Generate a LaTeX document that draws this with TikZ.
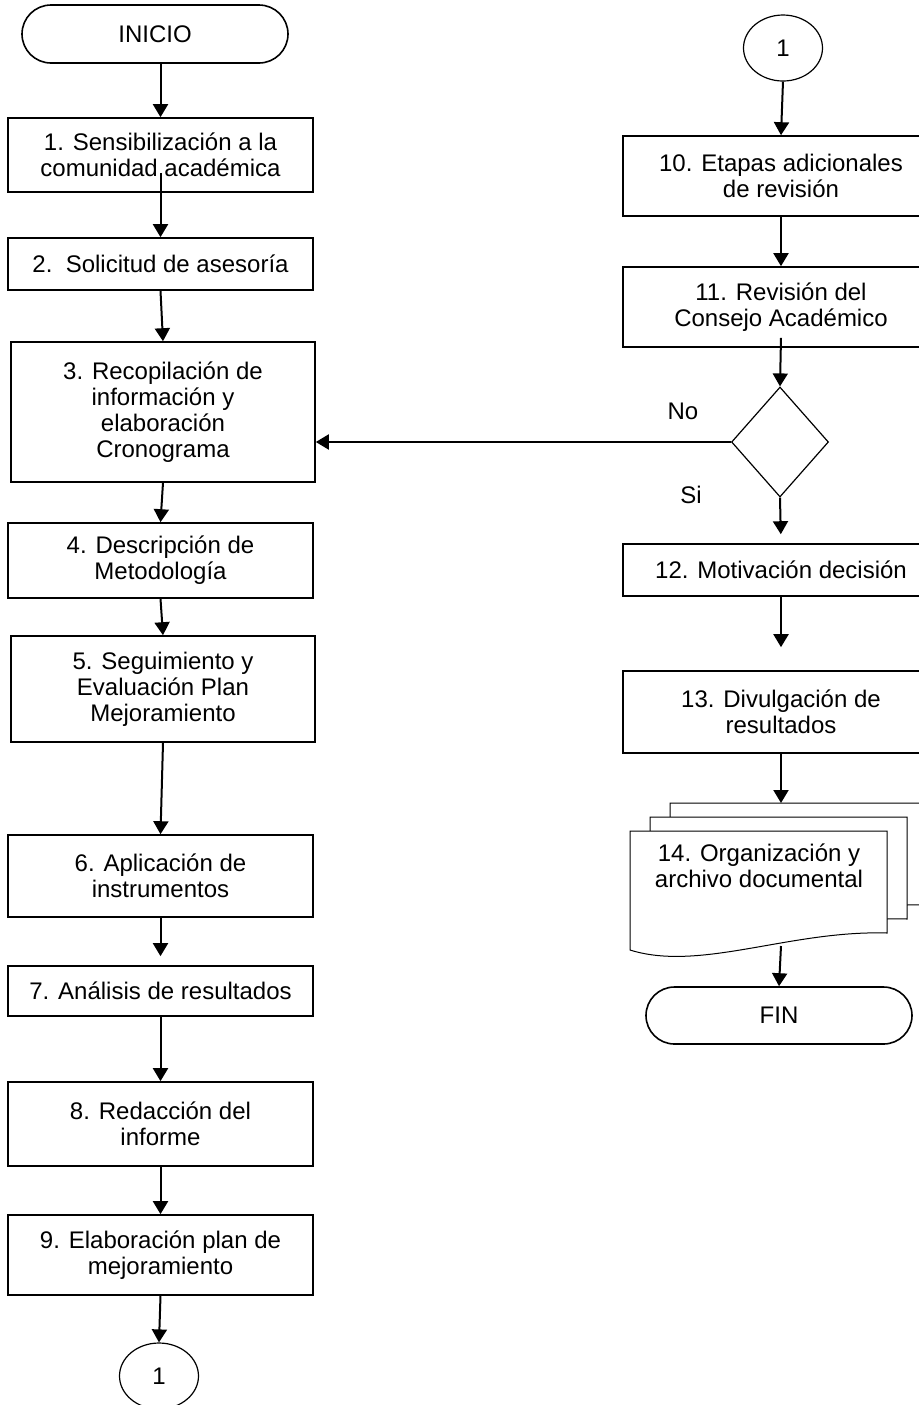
\documentclass[tikz,border=0pt]{standalone}
\usepackage{fontspec}
\setmainfont{Liberation Sans}
\usetikzlibrary{shapes.geometric, shapes.misc, arrows.meta}

\begin{document}
\begin{tikzpicture}[x=0.5pt, y=-0.5pt,
    font=\fontsize{12}{13}\selectfont,
    proceso/.style={draw, line width=0.8pt, align=center, inner sep=0pt},
    terminal/.style={draw, rounded rectangle, line width=0.8pt, inner sep=0pt,
        minimum width=133pt, minimum height=29pt},
    conector/.style={draw, ellipse, line width=0.6pt, inner sep=0pt,
        minimum width=39.5pt, minimum height=33pt},
    decision/.style={draw, diamond, line width=0.6pt, inner sep=0pt,
        minimum width=48.5pt, minimum height=55pt},
    hoja/.style={draw, fill=white, line width=0.5pt},
    flecha/.style={-{Triangle[width=7.5pt,length=6.5pt]}, line width=1pt}]
    \useasboundingbox (0,0) rectangle (919,1405);
    \clip (0,0) rectangle (919,1405);

    % Left column
    \node[terminal] (ini) at (155,34) {INICIO};
    \node[proceso, minimum width=152.5pt, minimum height=37pt] (b1) at (160.5,155)
        {1. Sensibilización a la\\comunidad académica};
    \node[proceso, minimum width=152.5pt, minimum height=26pt] (b2) at (160.5,264)
        {2.\ \ Solicitud de asesoría};
    \node[proceso, minimum width=152pt, minimum height=70pt] (b3) at (163,412)
        {3. Recopilación de\\información y\\elaboración\\Cronograma};
    \node[proceso, minimum width=152.5pt, minimum height=37.5pt] (b4) at (160.5,560.5)
        {4. Descripción de\\Metodología};
    \node[proceso, minimum width=152pt, minimum height=53pt] (b5) at (163,689)
        {5. Seguimiento y\\Evaluación Plan\\Mejoramiento};
    \node[proceso, minimum width=152.5pt, minimum height=41pt] (b6) at (160.5,876)
        {6. Aplicación de\\instrumentos};
    \node[proceso, minimum width=152.5pt, minimum height=25pt] (b7) at (160.5,991)
        {7. Análisis de resultados};
    \node[proceso, minimum width=152.5pt, minimum height=42pt] (b8) at (160.5,1124)
        {8. Redacción del\\informe};
    \node[proceso, minimum width=152.5pt, minimum height=40pt] (b9) at (160.5,1255)
        {9. Elaboración plan de\\mejoramiento};
    \node[conector] (c1) at (159,1376) {1};

    % Right column
    \node[conector] (c2) at (783,48) {1};
    \node[proceso, minimum width=158pt, minimum height=40pt] (b10) at (781,176)
        {10. Etapas adicionales\\de revisión};
    \node[proceso, minimum width=158pt, minimum height=40pt] (b11) at (781,307)
        {11. Revisión del\\Consejo Académico};
    \node[decision] (dia) at (780,442) {};
    \node (no) at (683,411) {No};
    \node (si) at (691,495) {Si};
    \node[proceso, minimum width=158pt, minimum height=26pt] (b12) at (781,570)
        {12. Motivación decisión};
    \node[proceso, minimum width=158pt, minimum height=41pt] (b13) at (781,712)
        {13. Divulgación de\\resultados};

    % Document stack
    \foreach \dx/\dy in {40/-28, 20/-14, 0/0} {
        \draw[hoja, shift={(\dx,\dy)}] (630,831) -- (887,831) -- (887,933)
            .. controls (790,930) and (700,972) .. (630,950) -- cycle;
    }
    \node[align=center] (doc) at (759,866) {14. Organización y\\archivo documental};
    \coordinate (docArriba) at (781,803);
    \coordinate (docAbajo) at (781,946);
    \node[terminal, minimum height=28.5pt] (fin) at (779,1015.5) {FIN};

    % Arrows
    \draw[flecha] (ini.south -| b1.north) -- (b1.north);
    \draw[flecha] ([yshift=10pt]b1.south) -- (b2.north);
    \draw[flecha] (b2.south) -- (b3.north);
    \draw[flecha] (b3.south) -- (b4.north);
    \draw[flecha] (b4.south) -- (b5.north);
    \draw[flecha] (b5.south) -- (b6.north);
    \draw[flecha, shorten >=4.5pt] (b6.south) -- (b7.north);
    \draw[flecha] (b7.south) -- (b8.north);
    \draw[flecha] (b8.south) -- (b9.north);
    \draw[flecha] (b9.south) -- (c1.north);
    \draw[flecha] (c2.south) -- (b10.north);
    \draw[flecha] (b10.south) -- (b11.north);
    \draw[flecha] ([yshift=5pt]b11.south) -- (dia.north);
    \draw[flecha] (dia.west) -- (dia.west -| b3.east);
    \draw[flecha, shorten >=4.5pt] (dia.south) -- (b12.north);
    \draw[flecha, shorten >=11.5pt] (b12.south) -- (b13.north);
    \draw[flecha] (b13.south) -- (docArriba);
    \draw[flecha] (docAbajo) -- (fin.north);
\end{tikzpicture}
\end{document}
